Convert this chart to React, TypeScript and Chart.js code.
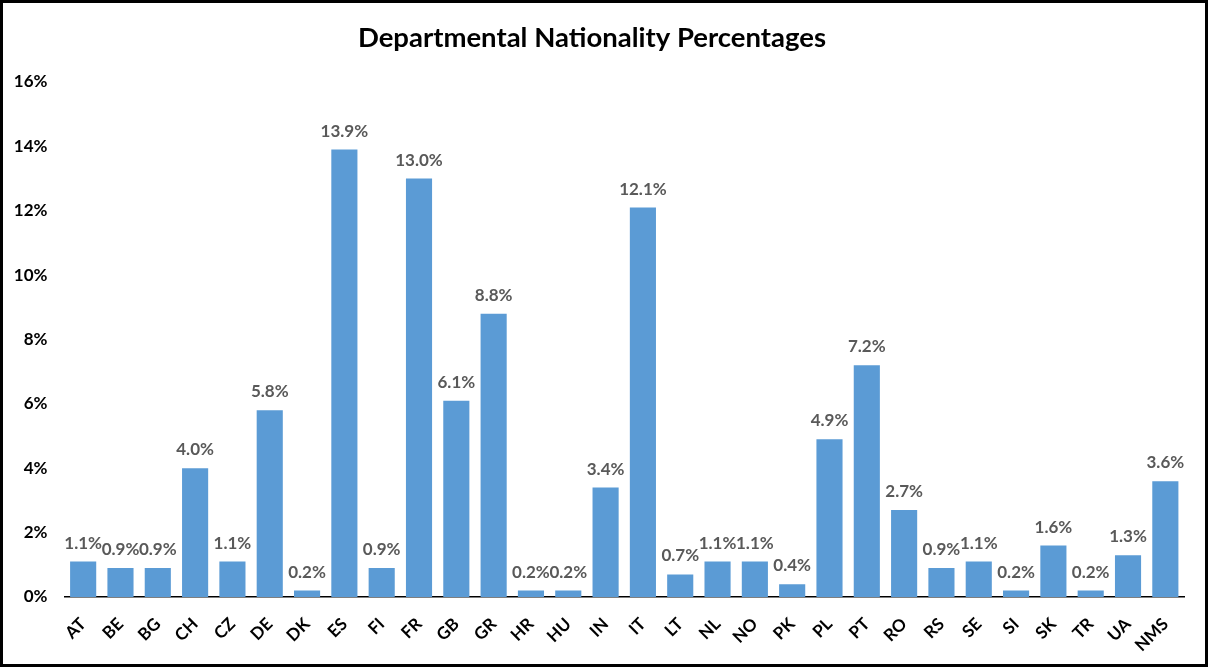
import React, { useEffect, useRef } from "react";
import { Chart, registerables } from "chart.js";

Chart.register(...registerables);

const categories = ["AT","BE","BG","CH","CZ","DE","DK","ES","FI","FR","GB","GR","HR","HU","IN","IT","LT","NL","NO","PK","PL","PT","RO","RS","SE","SI","SK","TR","UA","NMS"];
const percentages = [1.1,0.9,0.9,4.0,1.1,5.8,0.2,13.9,0.9,13.0,6.1,8.8,0.2,0.2,3.4,12.1,0.7,1.1,1.1,0.4,4.9,7.2,2.7,0.9,1.1,0.2,1.6,0.2,1.3,3.6];
const yTicks = [0,2,4,6,8,10,12,14,16];
const chartTitle = "Departmental Nationality Percentages";

const FONT = "Lato, 'Open Sans', sans-serif";

const dataLabelPlugin = {
  id: "dataLabels",
  afterDatasetsDraw(chart: any) {
    const ctx = chart.ctx;
    const meta = chart.getDatasetMeta(0);
    ctx.save();
    ctx.font = `bold 17px ${FONT}`;
    ctx.fillStyle = "#595959";
    ctx.textAlign = "center";
    ctx.textBaseline = "alphabetic";
    meta.data.forEach((bar: any, i: number) => {
      ctx.fillText(percentages[i].toFixed(1) + "%", bar.x, bar.y - 13);
    });
    ctx.restore();
  },
};

export default function App() {
  const ref = useRef<HTMLCanvasElement>(null);
  useEffect(() => {
    document.body.style.margin = "0";
    const chart = new Chart(ref.current!, {
      type: "bar",
      data: {
        labels: categories,
        datasets: [
          {
            data: percentages,
            backgroundColor: "#5B9BD5",
            borderWidth: 0,
            barPercentage: 0.7,
            categoryPercentage: 1,
          },
        ],
      },
      options: {
        responsive: false,
        animation: false,
        layout: { padding: { left: 0, right: 26, top: 0, bottom: 0 } },
        plugins: {
          legend: { display: false },
          tooltip: { enabled: false },
          title: {
            display: true,
            text: chartTitle,
            color: "#000000",
            font: { family: FONT, size: 27.5, weight: "bold", lineHeight: 1.2 },
            padding: { top: 22, bottom: 27 },
          } as any,
        },
        scales: {
          x: {
            grid: { display: false, drawTicks: false },
            border: { display: true, color: "#000000", width: 1.5 },
            ticks: {
              color: "#000000",
              font: { family: FONT, size: 17, weight: "bold" },
              minRotation: 45,
              maxRotation: 45,
              padding: 17,
              autoSkip: false,
            },
            afterFit(scale: any) {
              scale.height = 72;
            },
          },
          y: {
            min: 0,
            max: 16,
            afterBuildTicks(scale: any) {
              scale.ticks = yTicks.map((v) => ({ value: v }));
            },
            grid: { display: false, drawTicks: false },
            border: { display: false },
            ticks: {
              color: "#000000",
              font: { family: FONT, size: 17, weight: "bold" },
              padding: 17,
              callback: (v: any) => v + "%",
            },
            afterFit(scale: any) {
              scale.width = 64.5;
            },
          },
        },
      } as any,
      plugins: [dataLabelPlugin],
    });
    return () => chart.destroy();
  }, []);

  return (
    <div style={{ position: "relative", width: 1210, height: 669, overflow: "hidden", background: "#fff" }}>
      <canvas ref={ref} width={1210} height={669} style={{ position: "absolute", left: 0, top: 0 }} />
      <div
        style={{
          position: "absolute",
          left: 0,
          top: 0,
          width: 1208,
          height: 667,
          boxSizing: "border-box",
          border: "3px solid #000",
          pointerEvents: "none",
        }}
      />
    </div>
  );
}
